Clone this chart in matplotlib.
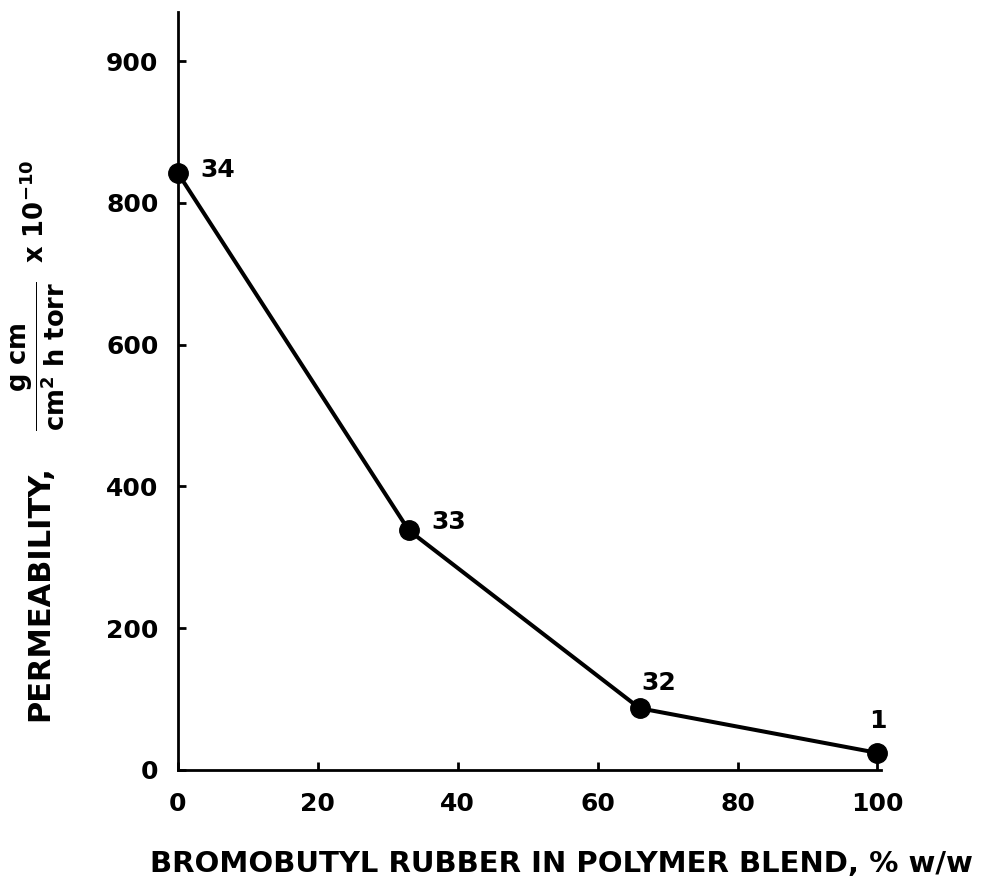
import matplotlib
matplotlib.use("Agg")
import matplotlib.pyplot as plt

# data
blend_pct = [0, 33, 66, 100]
permeability = [842, 338, 87, 24]
point_labels = ["34", "33", "32", "1"]
label_offsets = [(29, 2), (29, 6), (14, 18), (0, 23)]  # points

xticks = [0, 20, 40, 60, 80, 100]
yticks = [0, 200, 400, 600, 800, 1000]
ytick_labels = ["0", "200", "400", "600", "800", "900"]  # top label as printed

plt.rcParams['font.family'] = ['DejaVu Sans']
plt.rcParams['font.weight'] = 'bold'
plt.rcParams['mathtext.fontset'] = 'custom'
plt.rcParams['mathtext.rm'] = 'DejaVu Sans:bold'
plt.rcParams['mathtext.it'] = 'DejaVu Sans:bold'
plt.rcParams['mathtext.bf'] = 'DejaVu Sans:bold'

fig = plt.figure(figsize=(9.81, 8.88), dpi=100)
ax = fig.add_axes([0.1814, 0.133, 0.7166, 0.854])

ax.plot(blend_pct, permeability, color='black', linewidth=2.9,
        marker='o', markersize=14, clip_on=False, zorder=3)

for x, y, lab, off in zip(blend_pct, permeability, point_labels, label_offsets):
    ax.annotate(lab, (x, y), xytext=off, textcoords='offset points',
                ha='center', va='center', fontsize=18, fontweight='bold')

ax.set_xlim(0, 100.5)
ax.set_ylim(0, 1070)
ax.set_xticks(xticks)
ax.set_yticks(yticks)
ax.set_yticklabels(ytick_labels)

for side in ['top', 'right']:
    ax.spines[side].set_visible(False)
for side in ['left', 'bottom']:
    ax.spines[side].set_linewidth(2)

ax.tick_params(direction='in', length=6, width=2, labelsize=18, pad=14)
ax.tick_params(axis='x', pad=16)

ax.set_xlabel('BROMOBUTYL RUBBER IN POLYMER BLEND, % w/w',
              fontsize=21, fontweight='bold')
ax.xaxis.set_label_coords(0.545, -0.105)

# y label: word part bigger, units part (fraction, x 10^-10) smaller
ax.set_ylabel('PERMEABILITY,', fontsize=22, fontweight='bold',
              va='baseline', ha='center', rotation_mode='anchor')
ax.yaxis.set_label_coords(-0.184, 0.2335)
ax.text(-0.19, 0.6253,
        r'$\dfrac{\mathrm{g\ cm}}{\mathrm{cm^2\ h\ torr}}$  x $10^{-10}$',
        transform=ax.transAxes, rotation=90, rotation_mode='anchor',
        ha='center', va='baseline', fontsize=18.5, fontweight='bold')

fig.savefig('out.png', dpi=100)
